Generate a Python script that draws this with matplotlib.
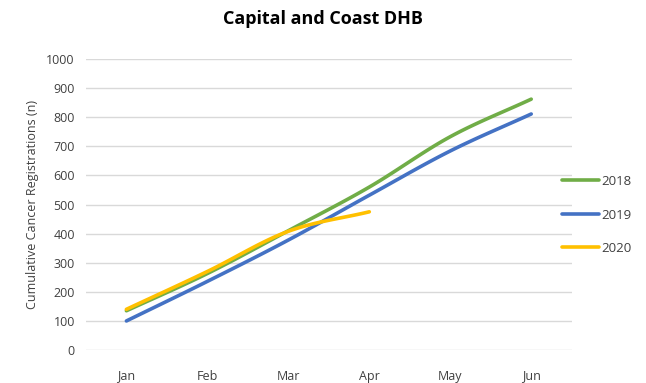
#!/usr/bin/env python
# Cumulative cancer registrations, Capital and Coast DHB

import numpy as np
import matplotlib
matplotlib.use("Agg")
import matplotlib.pyplot as plt

# data
months = ["Jan", "Feb", "Mar", "Apr", "May", "Jun"]
reg_2018 = [135, 263, 410, 560, 733, 862]
reg_2019 = [100, 236, 378, 532, 684, 811]
reg_2020 = [140, 270, 408, 475]

series = [("2018", reg_2018, "#70ad47"),
          ("2019", reg_2019, "#4472c4"),
          ("2020", reg_2020, "#ffc000")]

plt.rcParams["font.family"] = ["Open Sans", "DejaVu Sans"]

# smooth line like Excel's "smoothed line" (catmull-rom through the points)
def smooth(xs, ys, n=20):
    xs = np.asarray(xs, float)
    ys = np.asarray(ys, float)
    if len(xs) < 3:
        return xs, ys
    px = np.concatenate([[2 * xs[0] - xs[1]], xs, [2 * xs[-1] - xs[-2]]])
    py = np.concatenate([[2 * ys[0] - ys[1]], ys, [2 * ys[-1] - ys[-2]]])
    outx, outy = [], []
    t = np.linspace(0, 1, n, endpoint=False)
    for i in range(1, len(px) - 2):
        for p, out in ((px, outx), (py, outy)):
            p0, p1, p2, p3 = p[i - 1], p[i], p[i + 1], p[i + 2]
            out.extend(0.5 * ((2 * p1) + (-p0 + p2) * t
                              + (2 * p0 - 5 * p1 + 4 * p2 - p3) * t ** 2
                              + (-p0 + 3 * p1 - 3 * p2 + p3) * t ** 3))
    outx.append(xs[-1])
    outy.append(ys[-1])
    return np.array(outx), np.array(outy)

fig = plt.figure(figsize=(6.46, 3.83), dpi=100)
ax = fig.add_axes([0.133, 0.086, 0.752, 0.760])

for label, vals, col in series:
    x = np.arange(len(vals))
    sx, sy = smooth(x, vals)
    ax.plot(sx, sy, color=col, lw=2.6, solid_capstyle="round", label=label)

ax.set_xlim(-0.5, len(months) - 0.5)
ax.set_ylim(0, 1000)
ax.set_yticks(np.arange(0, 1001, 100))
ax.set_xticks(np.arange(len(months)))
ax.set_xticklabels(months)
ax.grid(axis="y", color="#d9d9d9", lw=1)
ax.set_axisbelow(True)
for s in ax.spines.values():
    s.set_visible(False)
ax.tick_params(length=0, labelsize=9, colors="#404040", pad=8)
ax.tick_params(axis="x", pad=14)

ax.set_ylabel("Cumulative Cancer Registrations (n)", fontsize=9, color="#404040", labelpad=5)
fig.suptitle("Capital and Coast DHB", fontsize=13, fontweight="bold", y=0.975)

leg = ax.legend(loc="center left", bbox_to_anchor=(0.955, 0.464), frameon=False,
                fontsize=9.5, handlelength=2.8, handletextpad=0.2, labelspacing=1.55)
for t in leg.get_texts():
    t.set_color("#404040")

fig.savefig("out.png", dpi=100)
